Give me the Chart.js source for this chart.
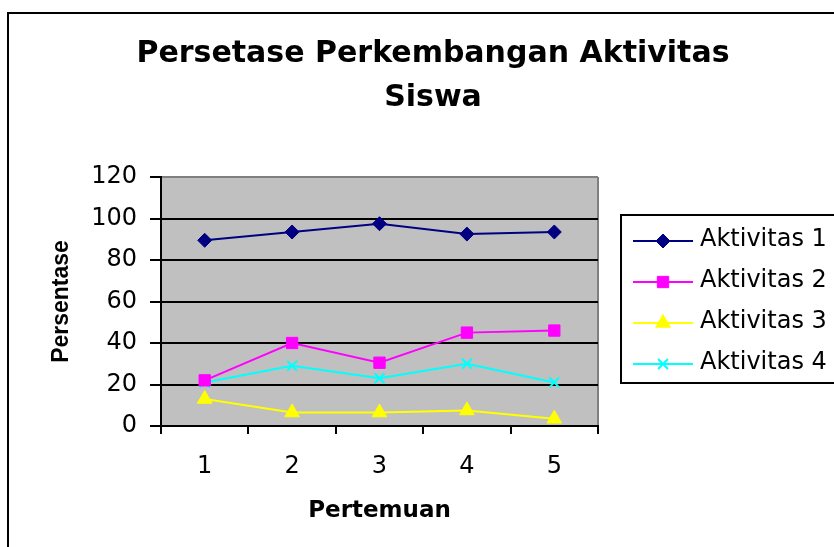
<!DOCTYPE html>
<html>
<head>
<meta charset="utf-8">
<script src="https://cdn.jsdelivr.net/npm/chart.js@4.4.1/dist/chart.umd.min.js"></script>
<style>
  html, body { margin: 0; padding: 0; background: #fff; }
</style>
</head>
<body>
<canvas id="myChart" width="834" height="547"></canvas>
<script>
let titleLines = ['Persetase Perkembangan Aktivitas', 'Siswa'];
let pertemuan = ['1', '2', '3', '4', '5'];
let seriesNames = ['Aktivitas 1', 'Aktivitas 2', 'Aktivitas 3', 'Aktivitas 4'];
let aktivitas1 = [89.5, 93.5, 97.5, 92.5, 93.5];
let aktivitas2 = [22, 40, 30.5, 45, 46];
let aktivitas3 = [13, 6.5, 6.5, 7.5, 3.5];
let aktivitas4 = [21, 29, 23, 30, 21];
let yTicks = [0, 20, 40, 60, 80, 100, 120];

let colors = ['#000080', '#ff00ff', '#ffff00', '#00ffff'];
let pointStyles = ['rectRot', 'rect', 'triangle', 'crossRot'];
let pointSizes = [7, 8, 8.5, 7];
let allData = [aktivitas1, aktivitas2, aktivitas3, aktivitas4];

let datasets = [];
for (let i = 0; i < seriesNames.length; i++) {
  datasets.push({
    label: seriesNames[i],
    data: allData[i],
    borderColor: colors[i],
    backgroundColor: colors[i],
    borderWidth: 2,
    pointStyle: pointStyles[i],
    pointRadius: pointSizes[i],
    pointBorderWidth: i == 3 ? 2 : 1,
    pointBackgroundColor: colors[i],
    pointBorderColor: colors[i]
  });
}

// background, outer frame, title and legend box
let framePlugin = {
  id: 'frame',
  beforeDraw(chart) {
    let ctx = chart.ctx;
    let a = chart.chartArea;
    ctx.save();
    ctx.fillStyle = '#fff';
    ctx.fillRect(0, 0, chart.width, chart.height);
    ctx.strokeStyle = '#000';
    ctx.lineWidth = 2;
    ctx.strokeRect(8, 13, chart.width, chart.height);
    ctx.fillStyle = '#c0c0c0';
    ctx.fillRect(a.left, a.top, a.right - a.left, a.bottom - a.top);
    ctx.strokeStyle = '#808080';
    ctx.beginPath();
    ctx.moveTo(a.right, a.top);
    ctx.lineTo(a.right, a.bottom);
    ctx.stroke();

    ctx.fillStyle = '#000';
    ctx.font = 'bold 30px "DejaVu Sans"';
    ctx.textAlign = 'center';
    ctx.textBaseline = 'alphabetic';
    ctx.fillText(titleLines[0], 433, 62);
    ctx.fillText(titleLines[1], 433, 106);
    ctx.restore();
  },
  afterDraw(chart) {
    let ctx = chart.ctx;
    ctx.save();
    ctx.strokeStyle = '#000';
    ctx.lineWidth = 2;
    ctx.strokeRect(621, 215, 300, 168);
    ctx.font = '24px "DejaVu Sans"';
    ctx.textAlign = 'left';
    ctx.textBaseline = 'alphabetic';
    chart.data.datasets.forEach((ds, i) => {
      let y = 241 + i * 41;
      ctx.strokeStyle = ds.borderColor;
      ctx.fillStyle = ds.backgroundColor;
      ctx.lineWidth = 2;
      ctx.beginPath();
      ctx.moveTo(633, y);
      ctx.lineTo(693, y);
      ctx.stroke();
      ctx.lineWidth = ds.pointBorderWidth;
      Chart.helpers.drawPoint(ctx, {
        pointStyle: ds.pointStyle,
        radius: ds.pointRadius,
        borderWidth: ds.pointBorderWidth,
        rotation: 0
      }, 663, y);
      ctx.fillStyle = '#000';
      ctx.fillText(ds.label, 700, y + 5);
    });
    ctx.restore();
  }
};

let canvas = document.getElementById('myChart');
let ctx = canvas.getContext('2d');

let myChart = new Chart(ctx, {
  type: 'line',
  data: {
    labels: pertemuan,
    datasets: datasets
  },
  options: {
    responsive: false,
    animation: false,
    devicePixelRatio: 1,
    layout: { padding: { top: 177, right: 236, bottom: 0, left: 8 } },
    plugins: {
      legend: { display: false },
      title: { display: false },
      tooltip: { enabled: false }
    },
    scales: {
      x: {
        offset: true,
        afterFit(scale) { scale.height = 121; },
        grid: {
          offset: true,
          drawOnChartArea: false,
          tickLength: 8,
          color: '#000',
          lineWidth: 2
        },
        border: { color: '#000', width: 2 },
        ticks: {
          color: '#000',
          padding: 18,
          font: { family: 'DejaVu Sans', size: 24 }
        },
        title: {
          display: true,
          text: 'Pertemuan',
          color: '#000',
          padding: 22,
          font: { family: 'DejaVu Sans', size: 23, weight: 'bold' }
        }
      },
      y: {
        min: yTicks[0],
        max: yTicks[yTicks.length - 1],
        afterFit(scale) { scale.width = 153; },
        ticks: {
          stepSize: yTicks[1] - yTicks[0],
          color: '#000',
          padding: 13,
          font: { family: 'DejaVu Sans', size: 24 }
        },
        grid: {
          tickLength: 11,
          lineWidth: 2,
          color: (c) => (c.tick && c.tick.value == yTicks[yTicks.length - 1]) ? '#808080' : '#000',
          tickColor: '#000'
        },
        border: { color: '#000', width: 2 },
        title: {
          display: true,
          text: 'Persentase',
          color: '#000',
          padding: 40,
          font: { family: 'Liberation Sans', size: 23, weight: 'bold' }
        }
      }
    }
  },
  plugins: [framePlugin]
});
</script>
</body>
</html>
